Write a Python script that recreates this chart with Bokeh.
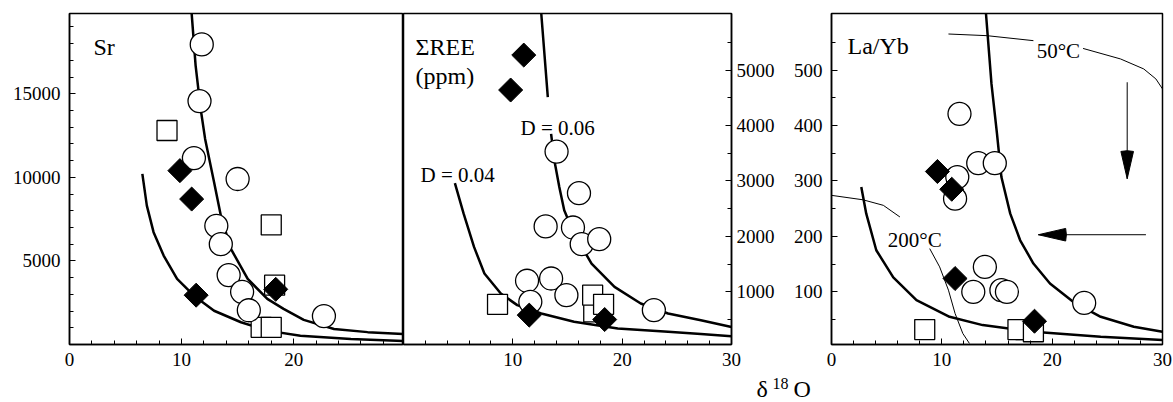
import math
from bokeh.plotting import figure
from bokeh.layouts import row, column
from bokeh.models import Range1d, FixedTicker, Label
from bokeh.embed import file_html
from bokeh.resources import INLINE

FONT = "'Liberation Serif', serif"
nan = float("nan")

# ---------------- Panel 1: Sr ----------------
sr_circ_x = [11.8, 11.6, 11.1, 15.0, 13.1, 13.5, 14.2, 15.4, 16.0, 22.7]
sr_circ_y = [17950, 14560, 11150, 9900, 7100, 6000, 4150, 3150, 2050, 1700]
sr_sq_x = [8.7, 18.0, 18.3, 17.1, 18.0]
sr_sq_y = [12800, 7150, 3550, 1030, 1030]
sr_dia_x = [9.85, 10.9, 11.3, 18.4]
sr_dia_y = [10400, 8700, 2950, 3300]
sr_up_x = [10.9, 11.25, 11.7, 12.1, 12.9, 13.5, 14.4, 15.9, 17.65, 19.1, 20.9, 23.6, 26.6, 29.8]
sr_up_y = [19790, 16700, 14100, 12300, 9710, 7710, 5720, 3920, 2730, 2130, 1470, 930, 740, 630]
sr_lo_x = [6.5, 6.9, 7.5, 8.4, 9.6, 11.1, 12.9, 15.3, 17.65, 20.6, 25.1, 29.8]
sr_lo_y = [10210, 8310, 6720, 5320, 3920, 2920, 2020, 1330, 830, 530, 330, 210]

# ---------------- Panel 2: sum REE ----------------
ree_circ_x = [14.0, 16.05, 13.0, 15.5, 16.3, 17.9, 11.3, 13.5, 14.9, 11.6, 22.9]
ree_circ_y = [3530, 2780, 2180, 2160, 1860, 1950, 1200, 1240, 940, 820, 670]
ree_sq_x = [17.4, 8.6, 17.3, 18.3]
ree_sq_y = [640, 775, 940, 775]
ree_dia_x = [11.0, 9.8, 11.5, 18.4]
ree_dia_y = [5270, 4640, 580, 500]
d06_x = [12.6, 13.2, nan, 13.5, 13.8, 14.25, 14.7, 15.6, 17.2, 19.3, 21.7, 24.2, 27.2, 30]
d06_y = [6020, 4510, nan, 3850, 3370, 2890, 2470, 2050, 1510, 1090, 790, 610, 487, 365]
d04_x = [4.7, 5.5, 6.45, 7.4, 8.9, 10.4, 12.6, 15.6, 19.6, 24.2, 27.2, 30]
d04_y = [2960, 2410, 1810, 1330, 970, 760, 610, 460, 340, 280, 240, 200]

# ---------------- Panel 3: La/Yb ----------------
lay_circ_x = [11.6, 13.3, 14.8, 11.4, 11.2, 13.9, 12.85, 15.4, 15.9, 22.9]
lay_circ_y = [421, 332, 332, 307, 268, 145, 100, 103, 100, 80]
lay_sq_x = [8.45, 17.6, 16.9, 18.3]
lay_sq_y = [32, 32, 32, 28]
lay_dia_x = [9.6, 10.9, 11.2, 18.4]
lay_dia_y = [317, 285, 124, 47]
lay_r_x = [14.0, 14.5, 15.0, 15.4, 16.2, 17.1, 18.3, 19.8, 21.9, 24.4, 27.4, 30]
lay_r_y = [602, 475, 385, 307, 241, 193, 151, 115, 82, 55, 37, 28]
lay_l_x = [2.7, 3.15, 4.06, 5.6, 7.7, 10.7, 13.7, 18.3, 24.4, 30]
lay_l_y = [289, 241, 175, 126, 85, 55, 40, 28, 19, 13]
t50_x = [10.6, 14.1, 18.3, nan, 22.8, 26.2, 28.3, 29.4, 30]
t50_y = [565, 562, 553, nan, 539, 520, 502, 484, 466]
t200_x = [0, 2.85, 4.7, 6.2, nan, 8.9, 9.8, 10.6, 11.2, 11.9, 12.5]
t200_y = [274, 266, 256, 235, nan, 178, 145, 103, 61, 25, 7]
arrow_x0 = [26.8, 28.5]
arrow_y0 = [478, 203]
arrow_x1 = [26.8, 18.75]
arrow_y1 = [304, 203]
arrow_dir = [90, 0]   # direction (deg) in which the head opens back from the tip

x_minor = list(range(2, 30, 2))
TICK_FS = "19px"
H = 374


def style_axis(ax):
    ax.axis_line_color = "black"
    ax.axis_line_width = 1.5
    ax.major_tick_in = 6
    ax.major_tick_out = 0
    ax.minor_tick_in = 4
    ax.minor_tick_out = 0
    ax.major_tick_line_color = "black"
    ax.minor_tick_line_color = "black"
    ax.major_label_text_font = FONT
    ax.major_label_text_font_size = TICK_FS
    ax.major_label_text_color = "black"


def make_fig(width, xr, yr, **kw):
    p = figure(width=width, height=H, x_range=xr, y_range=yr,
               output_backend="svg", toolbar_location=None,
               min_border_top=13, min_border_bottom=30, **kw)
    p.outline_line_color = "black"
    p.outline_line_width = 1.5
    p.xgrid.visible = False
    p.ygrid.visible = False
    p.background_fill_color = "white"
    p.border_fill_color = "white"
    for ax in p.xaxis + p.yaxis:
        style_axis(ax)
    p.xaxis.major_label_standoff = 8
    return p


def draw_points(p, sx, sy, cx, cy, dx, dy):
    p.scatter(sx, sy, marker="square", size=20, fill_color="white",
              line_color="black", line_width=1.3)
    p.scatter(cx, cy, marker="circle", size=23, fill_color="white",
              line_color="black", line_width=1.3)
    p.scatter(dx, dy, marker="square", angle=math.pi / 4, size=17,
              fill_color="black", line_color="black", line_width=1)


def add_label(p, x, y, text, size, baseline="alphabetic"):
    p.add_layout(Label(x=x, y=y, text=text, text_font=FONT, text_font_size=size,
                       text_color="black", text_align="left",
                       text_baseline=baseline))


# ---- panel 1
p1 = make_fig(403, Range1d(0, 29.8), Range1d(0, 19800),
              min_border_left=69, min_border_right=0)
p1.xaxis.ticker = FixedTicker(ticks=[0, 10, 20], minor_ticks=x_minor)
p1.yaxis.ticker = FixedTicker(ticks=[5000, 10000, 15000],
                              minor_ticks=list(range(1000, 20000, 1000)))
p1.yaxis.major_label_standoff = 9
p1.line(sr_up_x, sr_up_y, line_width=2.5, line_color="black")
p1.line(sr_lo_x, sr_lo_y, line_width=2.5, line_color="black")
draw_points(p1, sr_sq_x, sr_sq_y, sr_circ_x, sr_circ_y, sr_dia_x, sr_dia_y)
add_label(p1, 2.14, 17770, "Sr", "24px")

# ---- panel 2
p2 = make_fig(377, Range1d(0, 30), Range1d(50, 6020),
              y_axis_location="right", min_border_left=0, min_border_right=49)
for ax in p2.yaxis:
    style_axis(ax)
p2.xaxis.ticker = FixedTicker(ticks=[10, 20, 30], minor_ticks=x_minor)
p2.yaxis.ticker = FixedTicker(ticks=[1000, 2000, 3000, 4000, 5000],
                              minor_ticks=list(range(500, 6000, 500)))
p2.yaxis.major_label_standoff = 5
p2.line(d06_x, d06_y, line_width=2.5, line_color="black")
p2.line(d04_x, d04_y, line_width=2.5, line_color="black")
draw_points(p2, ree_sq_x, ree_sq_y, ree_circ_x, ree_circ_y, ree_dia_x, ree_dia_y)
add_label(p2, 1.1, 5408, "ΣREE", "24px")
add_label(p2, 1.1, 4885, "(ppm)", "24px")
add_label(p2, 10.7, 3947, "D = 0.06", "21px")
add_label(p2, 1.56, 3099, "D = 0.04", "21px")

# ---- panel 3
p3 = make_fig(393, Range1d(0, 30), Range1d(5, 602),
              min_border_left=51, min_border_right=11)
p3.xaxis.ticker = FixedTicker(ticks=[0, 10, 20, 30], minor_ticks=x_minor)
p3.yaxis.ticker = FixedTicker(ticks=[100, 200, 300, 400, 500],
                              minor_ticks=list(range(50, 600, 50)))
p3.yaxis.major_label_standoff = 9
p3.line(lay_r_x, lay_r_y, line_width=2.5, line_color="black")
p3.line(lay_l_x, lay_l_y, line_width=2.5, line_color="black")
p3.line(t50_x, t50_y, line_width=1, line_color="black")
p3.line(t200_x, t200_y, line_width=1, line_color="black")
p3.segment(arrow_x0, arrow_y0, arrow_x1, arrow_y1, line_width=1, line_color="black")
p3.wedge(x=arrow_x1, y=arrow_y1, radius=28, radius_units="screen",
         start_angle=[math.radians(d - 13) for d in arrow_dir],
         end_angle=[math.radians(d + 13) for d in arrow_dir],
         fill_color="black", line_color="black")
draw_points(p3, lay_sq_x, lay_sq_y, lay_circ_x, lay_circ_y, lay_dia_x, lay_dia_y)
add_label(p3, 1.45, 544, "La/Yb", "24px")
add_label(p3, 18.6, 535, "50°C", "21px")
add_label(p3, 5.1, 193, "200°C", "21px")

# ---- strip below the panels holding the shared x-axis title (delta 18 O)
strip = figure(width=1173, height=28, x_range=Range1d(0, 1173), y_range=Range1d(0, 28),
               output_backend="svg", toolbar_location=None, min_border=0,
               x_axis_type=None, y_axis_type=None)
strip.outline_line_color = None
strip.xgrid.visible = False
strip.ygrid.visible = False
strip.background_fill_color = "white"
strip.border_fill_color = "white"
add_label(strip, 756, 27, "δ", "24px", "top")
add_label(strip, 772, 25, "18", "16px", "top")
add_label(strip, 793, 27, "O", "24px", "top")

layout = column(row(p1, p2, p3, spacing=0), strip, spacing=0)
open("out.html", "w").write(file_html(layout, INLINE))
